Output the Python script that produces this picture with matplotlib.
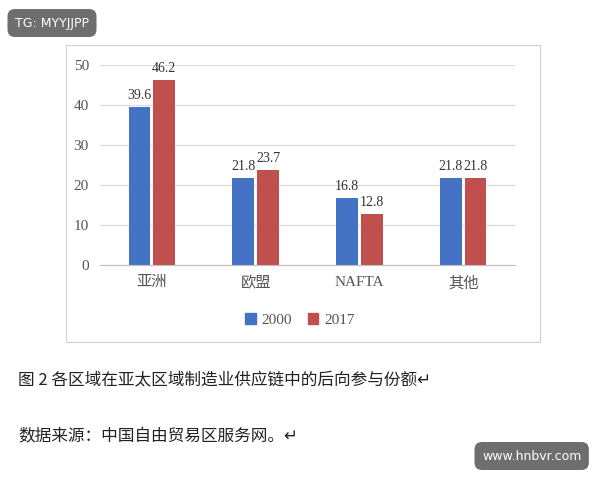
import matplotlib.pyplot as plt
from matplotlib.patches import Rectangle, Patch

categories = ["亚洲", "欧盟", "NAFTA", "其他"]
vals_2000 = [39.6, 21.8, 16.8, 21.8]
vals_2017 = [46.2, 23.7, 12.8, 21.8]
series_names = ["2000", "2017"]

cjk = "Noto Sans CJK SC"
serif = "Liberation Serif"

fig = plt.figure(figsize=(6, 4.8), dpi=100)
fig.patch.set_facecolor("white")

# chart frame
fig.patches.append(Rectangle((66 / 600, 1 - 342 / 480), 474 / 600, 297 / 480,
                             transform=fig.transFigure, fill=False,
                             edgecolor="#d0d0d0", lw=0.8))

ax = fig.add_axes([100 / 600, 1 - 265 / 480, 415 / 600, 200 / 480])
x = list(range(len(categories)))
w = 0.21
b1 = ax.bar([i - w / 2 - 0.015 for i in x], vals_2000, w, color="#4472C4")
b2 = ax.bar([i + w / 2 + 0.015 for i in x], vals_2017, w, color="#C0504D")
for bars, vals in ((b1, vals_2000), (b2, vals_2017)):
    for r, v in zip(bars, vals):
        ax.text(r.get_x() + r.get_width() / 2, v + 1.2, f"{v}", ha="center",
                va="bottom", fontsize=10, family=serif, color="#333333")

ax.set_xlim(-0.5, 3.5)
ax.set_ylim(0, 50)
ax.set_yticks(range(0, 51, 10))
ax.yaxis.grid(True, color="#d9d9d9", lw=0.8)
ax.set_axisbelow(True)
for s in ("top", "right", "left"):
    ax.spines[s].set_visible(False)
ax.spines["bottom"].set_color("#bfbfbf")
ax.tick_params(length=0, labelsize=11, colors="#555555", pad=8)
for t in ax.get_yticklabels():
    t.set_family(serif)
ax.set_xticks(x)
ax.set_xticklabels(categories)
for t in ax.get_xticklabels():
    t.set_family([serif, cjk])

leg = fig.legend(handles=[Patch(color="#4472C4"), Patch(color="#C0504D")],
                 labels=series_names, loc="center", bbox_to_anchor=(0.5, 1 - 320 / 480),
                 ncol=2, frameon=False, handlelength=0.7, handleheight=0.7,
                 columnspacing=1.0, handletextpad=0.4,
                 prop={"family": serif, "size": 11})
for t in leg.get_texts():
    t.set_color("#555555")

fig.text(18 / 600, 1 - 380 / 480, "图 2 各区域在亚太区域制造业供应链中的后向参与份额↵",
         family=[cjk, "DejaVu Sans"], fontsize=12, va="center", color="#222222")
fig.text(18 / 600, 1 - 437 / 480, "数据来源：中国自由贸易区服务网。↵",
         family=[cjk, "DejaVu Sans"], fontsize=12, va="center", color="#222222")

fig.text(15 / 600, 1 - 23 / 480, "TG: MYYJJPP", fontsize=9, color="white", va="center",
         bbox=dict(boxstyle="round,pad=0.6", fc="#6e6e6e", ec="none"))
fig.text(482 / 600, 1 - 456 / 480, "www.hnbvr.com", fontsize=9, color="white", va="center",
         bbox=dict(boxstyle="round,pad=0.6", fc="#6e6e6e", ec="none"))

fig.savefig("out.png", dpi=100)
